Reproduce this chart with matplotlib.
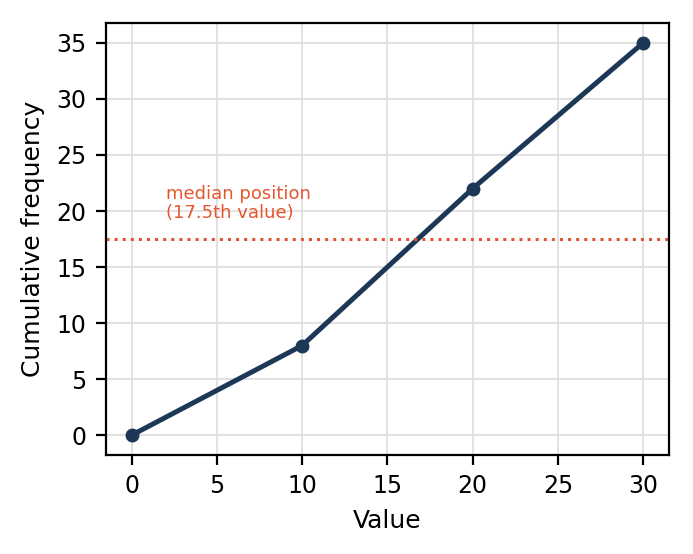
import matplotlib
matplotlib.use("Agg")
import matplotlib.pyplot as plt

values = [0, 10, 20, 30]
cumfreq = [0, 8, 22, 35]
median_pos = 17.5
xticks = [0, 5, 10, 15, 20, 25, 30]
yticks = [0, 5, 10, 15, 20, 25, 30, 35]

fig = plt.figure(figsize=(6.93/2, 5.54/2), dpi=200)
ax = fig.add_axes([0.153, 0.179, 0.812, 0.779])
ax.plot(values, cumfreq, color="#1d3857", lw=1.8, marker="o", ms=4)
ax.axhline(median_pos, color="#e4572e", lw=1.1, ls=":")
ax.text(2, 19.0, "median position\n(17.5th value)", color="#e4572e", fontsize=6.5, va="bottom", linespacing=1.1)
ax.set_xticks(xticks)
ax.set_yticks(yticks)
ax.set_xlim(-1.5, 31.5)
ax.set_ylim(-1.75, 36.75)
ax.grid(True, color="#dddddd", lw=0.6)
ax.set_axisbelow(True)
ax.tick_params(labelsize=8.5)
ax.set_xlabel("Value", fontsize=9)
ax.set_ylabel("Cumulative frequency", fontsize=9)
fig.savefig("out.png", dpi=200)
